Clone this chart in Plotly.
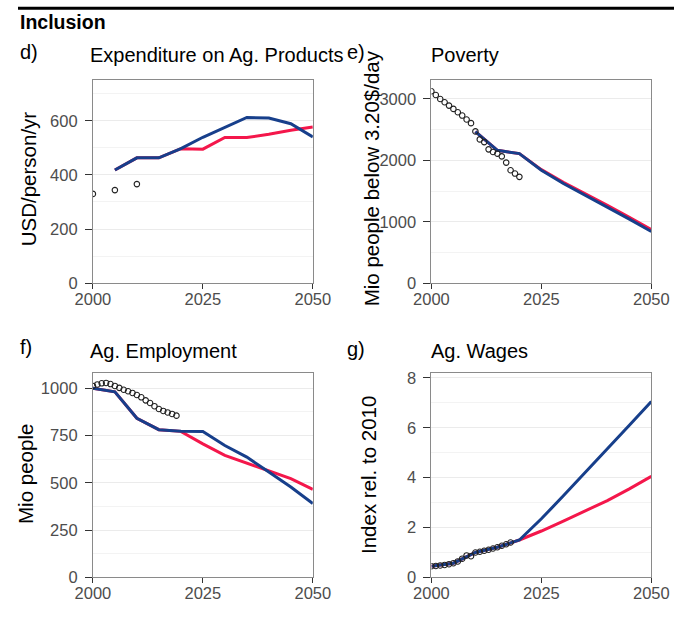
import plotly.graph_objects as go

W, H = 692, 635

RED = "#f4174b"
BLUE = "#173f8b"
TICK_GREY = "#4d4d4d"
FONT = "Liberation Sans, Arial, sans-serif"

# ---- d) Expenditure on Ag. Products (USD/person/yr)
exp_hist_years = [2000, 2005, 2010]
exp_hist = [330, 344, 366]
exp_years = [2005, 2010, 2015, 2020, 2025, 2030, 2035, 2040, 2045, 2050]
exp_red = [418, 463, 463, 497, 495, 538, 538, 550, 565, 577]
exp_blue = [418, 463, 463, 497, 539, 577, 612, 610, 589, 540]

# ---- e) Poverty (Mio people below 3.20$/day)
pov_hist_years = list(range(2000, 2021))
pov_hist = [3125, 3064, 3000, 2946, 2892, 2838, 2784, 2730, 2666, 2606,
            2472, 2342, 2298, 2180, 2137, 2110, 2066, 1964, 1840, 1786, 1732]
pov_years = [2010, 2015, 2020, 2025, 2030, 2035, 2040, 2045, 2050]
pov_red = [2470, 2164, 2110, 1850, 1645, 1460, 1268, 1072, 872]
pov_blue = [2470, 2164, 2110, 1840, 1624, 1432, 1240, 1045, 842]

# ---- f) Ag. Employment (Mio people)
emp_hist_years = list(range(2000, 2020))
emp_hist = [1012, 1020, 1026, 1028, 1022, 1012, 1002, 992, 984, 975,
            964, 952, 936, 922, 905, 890, 880, 872, 864, 855]
emp_years = [2000, 2005, 2010, 2015, 2020, 2025, 2030, 2035, 2040, 2045, 2050]
emp_red = [1000, 981, 841, 781, 772, 706, 645, 604, 566, 522, 465]
emp_blue = [1000, 981, 841, 781, 772, 771, 697, 636, 557, 478, 391]

# ---- g) Ag. Wages (index rel. to 2010)
wage_hist_years = list(range(2000, 2019))
wage_hist = [0.45, 0.46, 0.48, 0.50, 0.53, 0.57, 0.64, 0.75, 0.88, 0.85,
             1.00, 1.03, 1.07, 1.11, 1.16, 1.21, 1.27, 1.33, 1.40]
wage_years = [2000, 2005, 2010, 2015, 2020, 2025, 2030, 2035, 2040, 2045, 2050]
wage_red = [0.45, 0.57, 1.00, 1.21, 1.50, 1.86, 2.26, 2.66, 3.08, 3.55, 4.05]
wage_blue = [0.45, 0.57, 1.00, 1.21, 1.50, 2.35, 3.27, 4.20, 5.15, 6.10, 7.05]

x_ticks = [2000, 2025, 2050]

# panel boxes in layout pixels: (left, right, top, bottom)
panels = {
    "d": dict(px=(79.0, 311.0, 77.7, 285.1), yr=(0, 750), ytick=[0, 200, 400, 600], minor=100),
    "e": dict(px=(436.1, 668.1, 77.7, 285.1), yr=(0, 3307), ytick=[0, 1000, 2000, 3000], minor=500),
    "f": dict(px=(79.0, 311.0, 376.8, 585.4), yr=(0, 1080), ytick=[0, 250, 500, 750, 1000], minor=125),
    "g": dict(px=(436.1, 668.1, 376.8, 585.4), yr=(0, 8.19), ytick=[0, 2, 4, 6, 8], minor=1),
}

series = {
    "d": (exp_hist_years, exp_hist, exp_years, exp_red, exp_blue),
    "e": (pov_hist_years, pov_hist, pov_years, pov_red, pov_blue),
    "f": (emp_hist_years, emp_hist, emp_years, emp_red, emp_blue),
    "g": (wage_hist_years, wage_hist, wage_years, wage_red, wage_blue),
}

fig = go.Figure()
layout = {}

for i, (key, p) in enumerate(panels.items(), start=1):
    xa = "x" if i == 1 else f"x{i}"
    ya = "y" if i == 1 else f"y{i}"
    l, r, t, b = p["px"]
    hy, hv, yrs, red, blue = series[key]

    fig.add_trace(go.Scatter(x=yrs, y=red, mode="lines", line=dict(color=RED, width=3),
                             xaxis=xa, yaxis=ya, showlegend=False))
    fig.add_trace(go.Scatter(x=yrs, y=blue, mode="lines", line=dict(color=BLUE, width=3),
                             xaxis=xa, yaxis=ya, showlegend=False))
    fig.add_trace(go.Scatter(x=hy, y=hv, mode="markers",
                             marker=dict(symbol="circle-open", size=5.5, color="#222222",
                                         line=dict(width=1.1, color="#222222")),
                             xaxis=xa, yaxis=ya, showlegend=False))

    axis_common = dict(
        showline=True, linecolor="#8a8a8a", linewidth=1, mirror=True,
        ticks="outside", tickwidth=1, tickcolor="#333333",
        tickfont=dict(family=FONT, size=16.5, color=TICK_GREY),
        zeroline=False,
    )
    layout["xaxis" if i == 1 else f"xaxis{i}"] = dict(
        axis_common, domain=[l / W, r / W], anchor=ya, range=[2000, 2050],
        tickvals=x_ticks, showgrid=False, ticklen=5, ticklabelstandoff=-4,
    )
    layout["yaxis" if i == 1 else f"yaxis{i}"] = dict(
        axis_common, domain=[1 - b / H, 1 - t / H], anchor=xa, range=list(p["yr"]),
        tickvals=p["ytick"], ticklen=7, ticklabelstandoff=4,
        showgrid=True, gridcolor="#ebebeb", gridwidth=1.3,
        minor=dict(dtick=p["minor"] * 2, tick0=p["minor"], showgrid=True,
                   gridcolor="#f3f3f3", gridwidth=0.8, ticks=""),
    )

annotations = []


def text(x, y, s, size=20, angle=0, xanchor="left", bold=False, color="black"):
    annotations.append(dict(
        x=x / W, y=1 - y / H, xref="paper", yref="paper", text=f"<b>{s}</b>" if bold else s,
        showarrow=False, xanchor=xanchor, yanchor="middle", textangle=angle,
        font=dict(family=FONT, size=size, color=color),
    ))


text(0, 18.8, "Inclusion", size=19.5, bold=True)
text(0, 49.3, "d)")
text(73.5, 52.4, "Expenditure on Ag. Products")
text(345.0, 49.3, "e)")
text(434, 52.4, "Poverty")
text(0, 350.1, "f)")
text(73.5, 354.2, "Ag. Employment")
text(345.0, 352.2, "g)")
text(434, 354.2, "Ag. Wages")

text(11.0, 178.5, "USD/person/yr", angle=-90, xanchor="center", size=20.5)
text(373.0, 178.4, "Mio people below 3.20$/day", angle=-90, xanchor="center", size=20.5)
text(8.0, 480.2, "Mio people", angle=-90, xanchor="center", size=20.5)
text(369.9, 481.2, "Index rel. to 2010", angle=-90, xanchor="center", size=20.5)

fig.update_layout(
    width=W, height=H, margin=dict(l=0, r=0, t=0, b=0),
    paper_bgcolor="white", plot_bgcolor="white",
    annotations=annotations,
    shapes=[dict(type="line", xref="paper", yref="paper", x0=0, x1=1,
                 y0=1 - 4.3 / H, y1=1 - 4.3 / H, line=dict(color="black", width=3))],
    **layout,
)

fig.write_html("out.html")
